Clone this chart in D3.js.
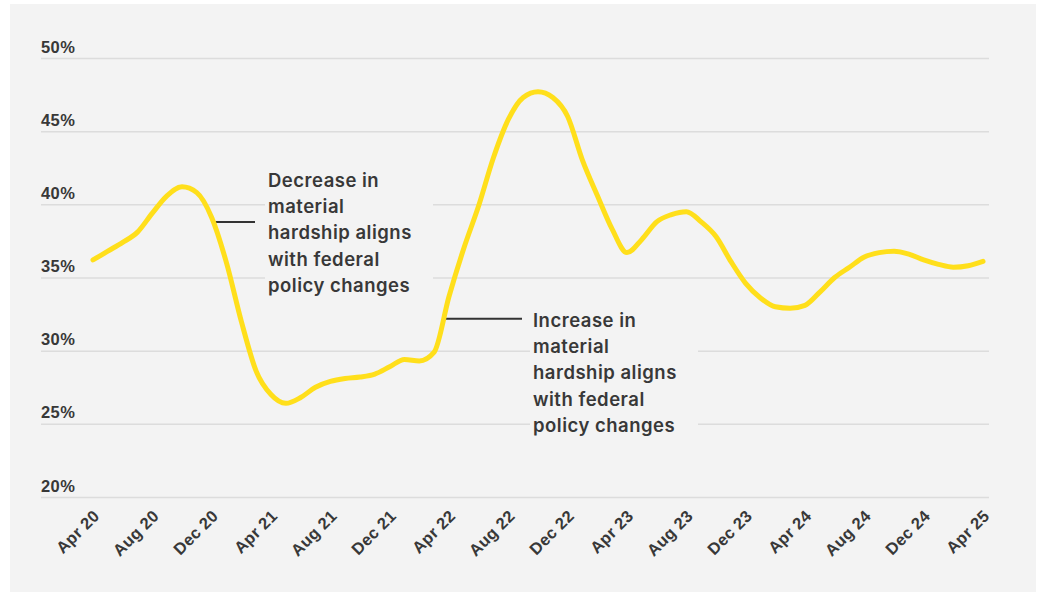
<!DOCTYPE html>
<html>
<head>
<meta charset="utf-8">
<script src="https://cdn.jsdelivr.net/npm/d3@7"></script>
<style>
  body { margin: 0; background: #fff; }
  svg { display: block; font-family: Inter, "Open Sans", sans-serif; }
</style>
</head>
<body>
<svg id="chart" width="1038" height="592"></svg>
<script>
// monthly share, Apr 2020 (index 0) .. Apr 2025 (index 60)
const hardship = [
  36.2, 36.8, 37.4, 38.1, 39.4, 40.6, 41.2, 40.8, 39.1, 36.0,
  32.0, 28.6, 27.0, 26.4, 26.8, 27.5, 27.9, 28.1, 28.2, 28.4,
  28.9, 29.4, 29.3, 29.9, 33.7, 37.0, 39.9, 43.2, 45.8, 47.3,
  47.7, 47.3, 46.0, 43.0, 40.6, 38.3, 36.7, 37.6, 38.8, 39.3,
  39.5, 38.8, 37.8, 36.1, 34.6, 33.6, 33.0, 32.9, 33.1, 34.0,
  35.0, 35.7, 36.4, 36.7, 36.8, 36.6, 36.2, 35.9, 35.7, 35.8,
  36.1
]
const tickMonths = [0, 4, 8, 12, 16, 20, 24, 28, 32, 36, 40, 44, 48, 52, 56, 60]
const tickLabels = ["Apr 20","Aug 20","Dec 20","Apr 21","Aug 21","Dec 21","Apr 22","Aug 22",
                    "Dec 22","Apr 23","Aug 23","Dec 23","Apr 24","Aug 24","Dec 24","Apr 25"]
const yTicks = [20, 25, 30, 35, 40, 45, 50]
const notes = [
  {month: 8.1, lines: ["Decrease in","material","hardship aligns","with federal","policy changes"]},
  {month: 23.6, lines: ["Increase in","material","hardship aligns","with federal","policy changes"]}
]

const svg = d3.select('#chart')
svg.append('rect')
  .attr('x', 10).attr('y', 4)
  .attr('width', 1026).attr('height', 590)
  .attr('fill', '#f3f3f3')

const x = d3.scaleLinear().domain([0, 60]).range([93, 983])
const y = d3.scaleLinear().domain([20, 50]).range([497, 58])

// gridlines + y labels
const yAxis = svg.append('g')
  .attr('transform', 'translate(41,0)')
  .call(d3.axisRight(y).tickValues(yTicks).tickSize(948).tickFormat(d => d + '%'))
yAxis.select('.domain').remove()
yAxis.selectAll('.tick line').attr('stroke', '#dcdcdc').attr('stroke-width', 1.5)
yAxis.selectAll('.tick text')
  .attr('x', 0).attr('dy', -6)
  .attr('text-anchor', 'start')
  .attr('fill', '#383838')
  .style('font-size', '16.5px')
  .style('font-weight', 600)
  .style('letter-spacing', '0.4px')

// x labels
const xAxis = svg.append('g')
  .attr('transform', 'translate(0,497)')
  .call(d3.axisBottom(x).tickValues(tickMonths).tickSize(0).tickFormat((d, i) => tickLabels[i]))
xAxis.select('.domain').remove()
xAxis.selectAll('.tick text')
  .attr('text-anchor', 'end')
  .attr('fill', '#383838')
  .attr('transform', 'translate(7,20) rotate(-45)')
  .attr('y', 0).attr('dy', 0)
  .style('font-size', '16.5px')
  .style('font-weight', 600)
  .style('letter-spacing', '0.3px')

// annotation backdrops + connectors
const boxX = [265, 530]
const lineEnd = [255, 522]
const firstBase = [187, 327]
notes.forEach((n, i) => {
  svg.append('rect')
    .attr('x', boxX[i]).attr('y', firstBase[i] - 18)
    .attr('width', 168).attr('height', 5 * 26.2 + 2)
    .attr('fill', '#f3f3f3')
  const yv = d3.interpolateNumber(hardship[Math.floor(n.month)], hardship[Math.ceil(n.month)])(n.month % 1)
  svg.append('line')
    .attr('x1', x(n.month)).attr('x2', lineEnd[i])
    .attr('y1', y(yv)).attr('y2', y(yv))
    .attr('stroke', '#333').attr('stroke-width', 2)
})

const line = d3.line()
  .x((d, i) => x(i))
  .y(d => y(d))
  .curve(d3.curveMonotoneX)

svg.append('path')
  .datum(hardship)
  .attr('d', line)
  .attr('fill', 'none')
  .attr('stroke', '#ffdf1b')
  .attr('stroke-width', 5)
  .attr('stroke-linejoin', 'round')
  .attr('stroke-linecap', 'round')

notes.forEach((n, i) => {
  const t = svg.append('text')
    .attr('fill', '#383838')
    .style('font-size', '18.5px')
    .style('font-weight', 600)
    .style('letter-spacing', '0.5px')
  n.lines.forEach((s, j) => {
    t.append('tspan')
      .attr('x', boxX[i] + 3)
      .attr('y', firstBase[i] + j * 26.2)
      .text(s)
  })
})
</script>
</body>
</html>
